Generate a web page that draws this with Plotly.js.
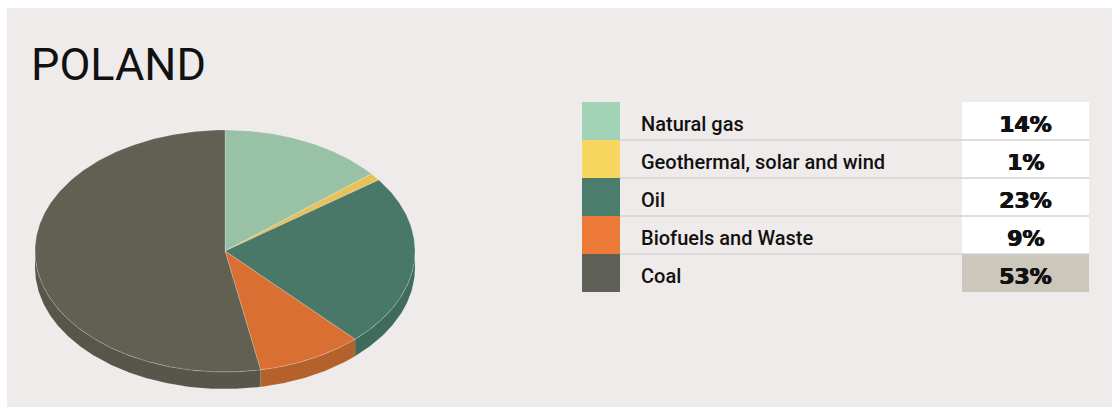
<!DOCTYPE html>
<html>
<head>
<meta charset="utf-8">
<script src="https://cdn.plot.ly/plotly-3.0.1.min.js"></script>
<style>
  html, body { margin: 0; padding: 0; background: #ffffff; }
  #chart { width: 1112px; height: 407px; }
</style>
</head>
<body>
<div id="chart"></div>
<script>
// ---- data ----
const categories = ['Natural gas', 'Geothermal, solar and wind', 'Oil', 'Biofuels and Waste', 'Coal'];
const shares = [14, 1, 23, 9, 53];
const shareLabels = ['14%', '1%', '23%', '9%', '53%'];
const title = 'POLAND';

// ---- styles ----
const topColors = ['#98c1a6', '#e7c258', '#4a7868', '#d96f33', '#606153'];
const sideColors = ['#7fa58c', '#c7a448', '#3e6b5b', '#b5612c', '#56564b'];
const legendColors = ['#a2d3b6', '#f9d65f', '#4b7d6c', '#ed7a39', '#5f6158'];
const boxColors = ['#ffffff', '#ffffff', '#ffffff', '#ffffff', '#ccc7bb'];

const W = 1112, H = 407;
const pie = { cx: 225, cy: 251, rx: 190, ry: 121, depth: 17 };
const table = { x0: 582, swatchW: 38, labelX: 639, boxX0: 962, boxX1: 1089, y0: 102, rowH: 38 };

function pt(theta, dy) {
  const r = theta * Math.PI / 180;
  return [pie.cx + pie.rx * Math.sin(r), pie.cy - pie.ry * Math.cos(r) + (dy || 0)];
}
function arc(a, b, dy) {
  const out = [];
  const n = Math.max(2, Math.ceil(Math.abs(b - a) / 0.5));
  for (let i = 0; i <= n; i++) out.push(pt(a + (b - a) * i / n, dy));
  return out;
}

const total = shares.reduce((s, v) => s + v, 0);
const sideTraces = [];
const topTraces = [];
let acc = 0;
shares.forEach((v, i) => {
  const a = acc / total * 360;
  const b = (acc + v) / total * 360;
  acc += v;
  // side wall (visible between 90 and 270 degrees)
  const sa = Math.max(a, 90), sb = Math.min(b, 270);
  if (sb > sa) {
    const pts = arc(sa, sb, 0).concat(arc(sb, sa, pie.depth));
    pts.push(pts[0]);
    sideTraces.push({
      type: 'scatter', mode: 'lines', fill: 'toself',
      x: pts.map(p => p[0]), y: pts.map(p => p[1]),
      fillcolor: sideColors[i], line: { width: 0.6, color: 'rgba(255,255,255,0.12)' },
      hoverinfo: 'skip', showlegend: false
    });
  }
  const tp = [[pie.cx, pie.cy]].concat(arc(a, b, 0));
  tp.push([pie.cx, pie.cy]);
  topTraces.push({
    type: 'scatter', mode: 'lines', fill: 'toself',
    x: tp.map(p => p[0]), y: tp.map(p => p[1]),
    fillcolor: topColors[i], line: { width: 0.7, color: 'rgba(255,255,255,0.3)' },
    name: categories[i], hoverinfo: 'name', showlegend: false
  });
});
const traces = sideTraces.concat(topTraces);

const shapes = [
  { type: 'rect', xref: 'x', yref: 'y', x0: 7, x1: W, y0: 8, y1: H,
    fillcolor: '#efebea', line: { width: 0 }, layer: 'below' }
];
const annotations = [
  { xref: 'x', yref: 'y', x: 29, y: 64, xanchor: 'left', yanchor: 'middle', showarrow: false,
    text: title, font: { family: 'Roboto', size: 45, weight: 400, color: '#111111' } }
];

categories.forEach((c, i) => {
  const y0 = table.y0 + i * table.rowH, y1 = y0 + table.rowH;
  shapes.push({ type: 'rect', xref: 'x', yref: 'y', x0: table.x0, x1: table.x0 + table.swatchW, y0: y0, y1: y1,
    fillcolor: legendColors[i], line: { width: 0 } });
  shapes.push({ type: 'rect', xref: 'x', yref: 'y', x0: table.boxX0, x1: table.boxX1, y0: y0, y1: y1,
    fillcolor: boxColors[i], line: { width: 0 } });
  if (i > 0) {
    shapes.push({ type: 'line', xref: 'x', yref: 'y', x0: table.x0 + table.swatchW, x1: table.boxX1, y0: y0, y1: y0,
      line: { width: 1.5, color: '#d6d2d1' } });
  }
  annotations.push({ xref: 'x', yref: 'y', x: table.labelX, y: (y0 + y1) / 2 + 3, xanchor: 'left', yanchor: 'middle',
    showarrow: false, text: c, font: { family: 'Roboto', size: 20, weight: 500, color: '#111111' } });
  annotations.push({ xref: 'x', yref: 'y', x: (table.boxX0 + table.boxX1) / 2, y: (y0 + y1) / 2 + 3, xanchor: 'center', yanchor: 'middle',
    showarrow: false, text: shareLabels[i],
    font: { family: 'DejaVu Sans', size: 22, weight: 700, color: '#111111', shadow: '0.7px 0 0 #111111, -0.3px 0 0 #111111' } });
});

const layout = {
  width: W, height: H,
  margin: { l: 0, r: 0, t: 0, b: 0, pad: 0 },
  paper_bgcolor: '#ffffff', plot_bgcolor: 'rgba(0,0,0,0)',
  xaxis: { range: [0, W], visible: false, fixedrange: true },
  yaxis: { range: [H, 0], visible: false, fixedrange: true },
  shapes: shapes, annotations: annotations, showlegend: false
};
Plotly.newPlot('chart', traces, layout, { displayModeBar: false, staticPlot: true });
</script>
</body>
</html>
